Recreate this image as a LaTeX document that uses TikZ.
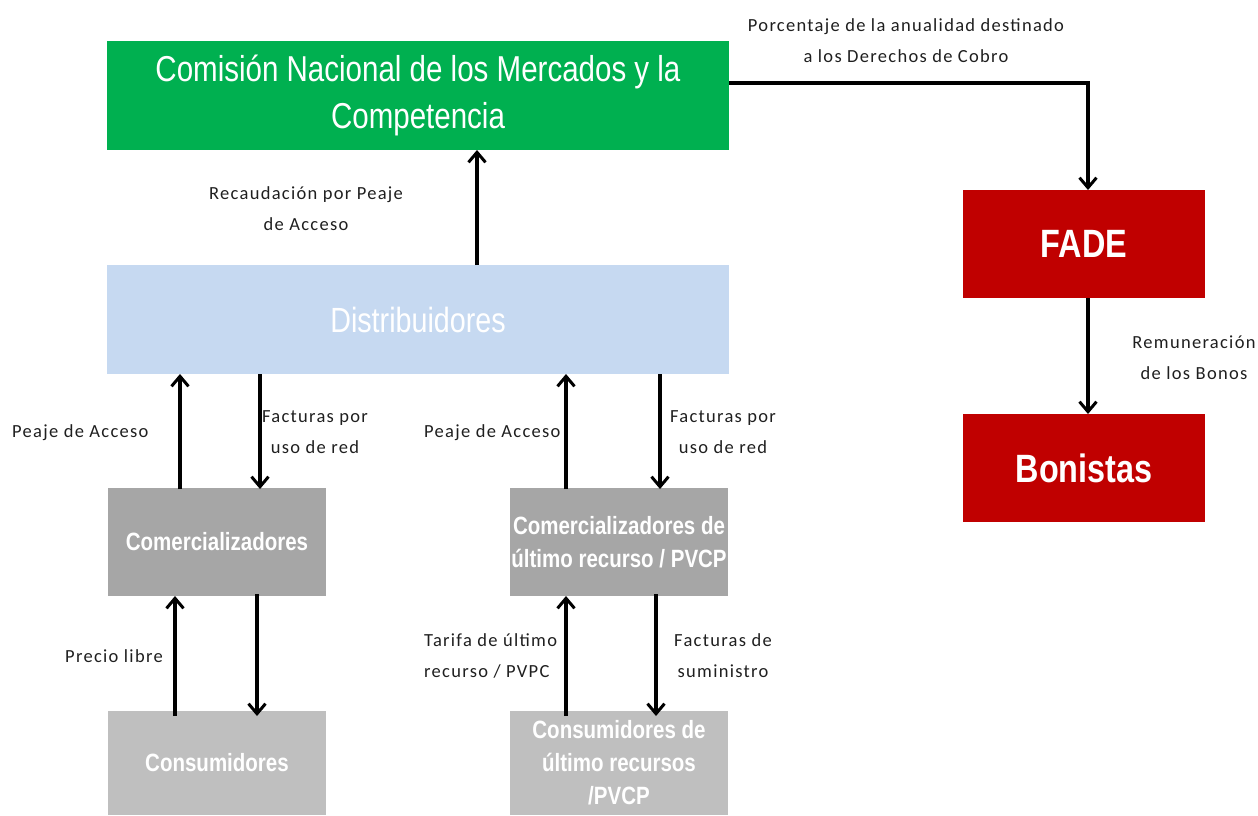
\documentclass[tikz,border=0pt]{standalone}
\usepackage{fontspec}
\usetikzlibrary{arrows.meta}
\newfontfamily\boxfont[FakeStretch=0.82]{Liberation Sans}
\newfontfamily\lblfont[LetterSpace=7]{Carlito}
\definecolor{cnmcgreen}{HTML}{00B050}
\definecolor{distblue}{HTML}{C6D9F1}
\definecolor{grayA}{HTML}{A6A6A6}
\definecolor{grayB}{HTML}{BFBFBF}
\definecolor{fadered}{HTML}{C00000}
\tikzset{
  box/.style={inner sep=0pt, outer sep=0pt, text=white, align=center, font=\boxfont},
  arr/.style={line width=3.2pt, -{Straight Barb[length=10pt,width=17pt,line width=3pt]}},
  lbl/.style={inner sep=0pt, text=black!88, font=\lblfont\fontsize{18.5}{31}\selectfont},
}
\begin{document}
\begin{tikzpicture}[x=1pt,y=-1pt]
\useasboundingbox (0,0) rectangle (1258,815);
% boxes
\node[box, fill=cnmcgreen, minimum width=622pt, minimum height=109pt, font=\boxfont\fontsize{36}{47}\selectfont] (cnmc) at (418,95.5) {Comisión Nacional de los Mercados y la\\Competencia};
\node[box, fill=distblue, minimum width=622pt, minimum height=109pt, font=\boxfont\fontsize{35}{40}\selectfont] (dist) at (418,319.5) {Distribuidores};
\node[box, fill=grayA, minimum width=218pt, minimum height=108pt, font=\boxfont\bfseries\fontsize{25}{33}\selectfont] (com) at (217,542) {Comercializadores};
\node[box, fill=grayA, minimum width=218pt, minimum height=108pt, font=\boxfont\bfseries\fontsize{25}{33}\selectfont] (cur) at (619,542) {Comercializadores de\\último recurso / PVCP};
\node[box, fill=grayB, minimum width=218pt, minimum height=104pt, font=\boxfont\bfseries\fontsize{25}{33}\selectfont] (cons) at (217,763) {Consumidores};
\node[box, fill=grayB, minimum width=218pt, minimum height=104pt, font=\boxfont\bfseries\fontsize{25}{33}\selectfont] (conscur) at (619,763) {Consumidores de\\último recursos\\/PVCP};
\node[box, fill=fadered, minimum width=242pt, minimum height=108pt, font=\boxfont\bfseries\fontsize{39.5}{44}\selectfont] (fade) at (1084,244) {FADE};
\node[box, fill=fadered, minimum width=242pt, minimum height=108pt, font=\boxfont\bfseries\fontsize{39.5}{44}\selectfont] (bon) at (1084,468) {Bonistas};
% connectors
\coordinate (corner) at (1088,83);
\draw[arr] (dist.north -| 477,0) -- (cnmc.south -| 477,0);
\draw[arr] (cnmc.east |- corner) -| (fade.north -| corner);
\draw[arr] (fade.south -| corner) -- (bon.north -| corner);
\draw[arr] ([yshift=-1pt]com.north -| 180,0) -- (dist.south -| 180,0);
\draw[arr] (dist.south -| 260,0) -- ([yshift=-1pt]com.north -| 260,0);
\draw[arr] ([yshift=-1pt]cur.north -| 566,0) -- (dist.south -| 566,0);
\draw[arr] (dist.south -| 660,0) -- ([yshift=-1pt]cur.north -| 660,0);
\draw[arr] ([yshift=-5pt]cons.north -| 175,0) -- (com.south -| 175,0);
\draw[arr] ([yshift=2pt]com.south -| 257,0) -- ([yshift=-5pt]cons.north -| 257,0);
\draw[arr] ([yshift=-5pt]conscur.north -| 566,0) -- (cur.south -| 566,0);
\draw[arr] ([yshift=2pt]cur.south -| 656,0) -- ([yshift=-5pt]conscur.north -| 656,0);
% labels
\node[lbl, align=center] (l1) at (906,41) {Porcentaje de la anualidad destinado\\a los Derechos de Cobro};
\node[lbl, align=center] (l2) at (306,209) {Recaudación por Peaje\\de Acceso};
\node[lbl, anchor=west] (l3) at (12,433) {Peaje de Acceso};
\node[lbl, align=center] (l4) at (315,432) {Facturas por\\uso de red};
\node[lbl, anchor=west] (l5) at (424,433) {Peaje de Acceso};
\node[lbl, align=center] (l6) at (723,432) {Facturas por\\uso de red};
\node[lbl, anchor=west] (l7) at (65,656) {Precio libre};
\node[lbl, align=left, anchor=west] (l8) at (424,656) {Tarifa de último\\recurso / PVPC};
\node[lbl, align=center] (l9) at (723,656) {Facturas de\\suministro};
\node[lbl, align=center] (l10) at (1194,358) {Remuneración\\de los Bonos};
\end{tikzpicture}
\end{document}
